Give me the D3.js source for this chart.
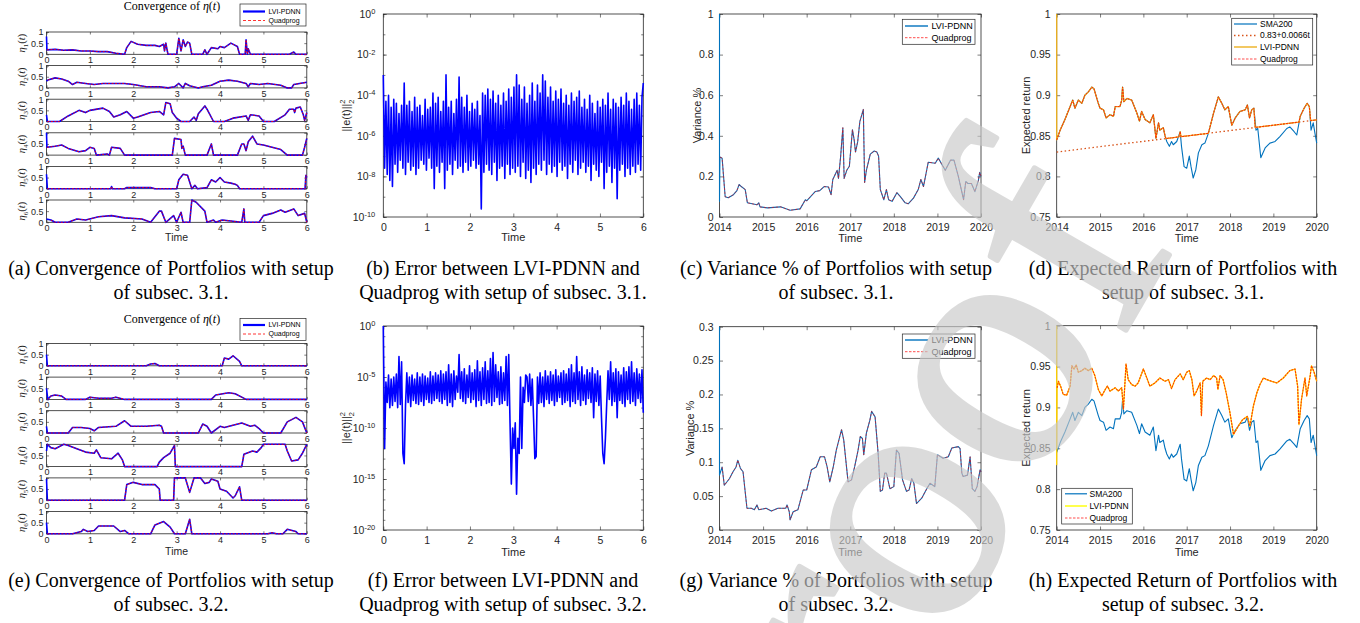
<!DOCTYPE html>
<html>
<head>
<meta charset="utf-8">
<script src="https://cdn.jsdelivr.net/npm/d3@7"></script>
<style>
  body { margin: 0; background: #fff; }
</style>
</head>
<body>
<script>
// ---------- data ----------
// eta(t) weights, setup 3.1 (first point = LVI-PDNN initial state)
var etaA1 = [[0,0.8],[0.01,0.2],[0.2,0.22],[0.4,0.18],[0.6,0.2],[0.8,0.15],[1,0.15],[1.2,0.12],[1.4,0.12],[1.6,0.05],[1.8,0],[1.85,0.3],[1.95,0.58],[2.1,0.45],[2.3,0.4],[2.5,0.4],[2.6,0.35],[2.7,0.45],[2.72,0.15],[2.75,0.5],[2.8,0],[3.0,0],[3.05,0.72],[3.1,0.15],[3.15,0.65],[3.2,0.35],[3.25,0.55],[3.3,0.5],[3.35,0],[3.6,0],[3.65,0.2],[3.7,0],[3.8,0.3],[3.95,0.25],[4.0,0.35],[4.1,0.3],[4.25,0.5],[4.4,0.35],[4.45,0],[4.58,0],[4.6,0.65],[4.63,0],[4.65,0.25],[4.7,0],[5.6,0],[5.7,0.1],[5.75,0],[6,0]];
var etaA2 = [[0,0.3],[0.03,0.35],[0.2,0.45],[0.35,0.4],[0.5,0.3],[0.6,0.15],[0.7,0.25],[0.9,0.2],[1.1,0.15],[1.3,0.2],[1.5,0.2],[1.8,0.2],[2.0,0.15],[2.3,0.05],[2.6,0.05],[2.8,0],[2.95,0.05],[3.05,0.2],[3.15,0],[3.2,0.2],[3.3,0.1],[3.5,0],[3.6,0.05],[3.8,0.12],[4.0,0.3],[4.2,0.35],[4.4,0.3],[4.6,0.2],[4.65,0.05],[4.7,0.2],[4.9,0.15],[5.1,0.2],[5.4,0.12],[5.55,0],[5.65,0],[5.7,0.15],[5.9,0.22],[6,0.25]];
var etaA3 = [[0,0.3],[0.02,0],[0.3,0],[0.5,0.25],[0.75,0.5],[0.9,0.4],[1.0,0.5],[1.3,0.6],[1.45,0.45],[1.55,0.2],[1.7,0.3],[1.85,0.45],[2.0,0.15],[2.1,0.2],[2.4,0.4],[2.6,0.45],[2.7,0.3],[2.75,0.85],[2.85,0.8],[2.9,0.4],[3.0,0.15],[3.1,0],[3.3,0],[3.4,0.2],[3.45,0.05],[3.5,0.35],[3.65,0.7],[3.7,0.55],[3.85,0],[4.1,0],[4.3,0.15],[4.6,0.25],[4.65,0.05],[4.7,0.3],[4.9,0.25],[5.0,0],[5.25,0],[5.5,0.3],[5.6,0.55],[5.7,0.55],[5.72,0.4],[5.75,0.6],[5.85,0.65],[5.92,0.3],[5.95,0.05],[6,0.4]];
var etaA4 = [[0,1],[0.01,0.35],[0.2,0.4],[0.35,0.45],[0.5,0.3],[0.75,0.15],[0.9,0.2],[1.0,0.35],[1.1,0.3],[1.15,0],[1.4,0.05],[1.45,0],[1.5,0.35],[1.7,0.3],[1.8,0],[2.9,0],[2.95,0.75],[3.1,0.7],[3.12,0.3],[3.15,0.4],[3.2,0],[3.7,0],[3.75,0.25],[3.8,0.5],[3.85,0],[4.4,0],[4.5,0.5],[4.55,0.5],[4.6,0.2],[4.65,0.6],[4.75,0.85],[4.85,0.5],[5.0,0.45],[5.2,0.35],[5.4,0.25],[5.55,0],[5.9,0],[5.95,0.35],[6,0.75]];
var etaA5 = [[0,0.65],[0.02,0],[1.48,0],[1.5,0.1],[1.52,0],[1.8,0],[1.85,0.05],[2.4,0.05],[2.5,0],[3.0,0],[3.05,0.4],[3.15,0.65],[3.25,0.6],[3.35,0],[3.42,0.15],[3.48,0],[3.7,0.05],[3.8,0.4],[3.9,0.3],[4.0,0.5],[4.1,0.3],[4.25,0.25],[4.35,0.2],[4.4,0.15],[4.45,0],[5.96,0],[5.98,0.6],[6,0.5]];
var etaA6 = [[0,0.15],[0.1,0.1],[0.2,0],[0.5,0],[0.7,0.15],[0.9,0.1],[1.2,0.25],[1.5,0.3],[1.8,0.2],[2.2,0.15],[2.4,0],[2.6,0.5],[2.65,0.5],[2.75,0],[2.93,0.3],[3.0,0],[3.1,0.45],[3.15,0],[3.3,0],[3.35,1.0],[3.45,0.9],[3.65,0.5],[3.7,0],[3.85,0.1],[3.9,0],[4.05,0.1],[4.5,0],[4.55,0.6],[4.57,0],[4.9,0],[5.0,0.3],[5.2,0.4],[5.4,0.55],[5.5,0.45],[5.7,0.6],[5.8,0.3],[5.95,0.4],[6,0]];

// eta(t) weights, setup 3.2
var etaE1 = [[0,0.5],[0.02,0],[2.3,0],[2.4,0.08],[2.5,0.1],[2.6,0],[4.05,0],[4.1,0.35],[4.2,0.3],[4.3,0.45],[4.45,0.2],[4.5,0],[6,0]];
var etaE2 = [[0,0.5],[0.03,0],[0.1,0.15],[0.2,0.2],[0.35,0.15],[0.45,0],[0.9,0],[1.0,0.1],[1.2,0.05],[1.5,0.05],[1.6,0.1],[1.8,0],[3.8,0],[3.9,0.2],[4.2,0.3],[4.35,0.25],[4.6,0],[6,0]];
var etaE3 = [[0,0.3],[0.02,0],[0.5,0],[0.6,0.25],[0.8,0.25],[1.0,0.2],[1.1,0.1],[1.2,0.25],[1.6,0.3],[1.8,0.55],[1.95,0.3],[2.3,0.3],[2.6,0.35],[2.65,0.3],[2.7,0],[3.5,0],[3.6,0.4],[3.7,0.3],[3.8,0],[4.0,0.3],[4.1,0.25],[4.5,0.45],[4.7,0.3],[4.8,0.35],[4.9,0.2],[5.0,0],[5.4,0],[5.55,0.5],[5.75,0.7],[5.9,0.5],[6,0]];
var etaE4 = [[0,0.7],[0.02,1.0],[0.1,0.85],[0.2,0.8],[0.4,1.0],[0.5,0.95],[0.7,0.8],[0.9,0.65],[1.1,0.6],[1.15,0.75],[1.25,0.4],[1.5,0.35],[1.65,0.6],[1.75,0.3],[1.8,0],[2.55,0],[2.6,0.2],[2.7,0.4],[2.85,0.6],[2.95,0.95],[2.97,0],[4.5,0],[4.55,0.55],[4.75,0.7],[4.85,0.65],[4.95,0.85],[5.0,1.0],[5.5,1.0],[5.55,0.7],[5.65,0.25],[5.8,0.3],[5.9,0.6],[6,1.0]];
var etaE5 = [[0,0.95],[0.02,0],[1.8,0],[1.85,0.7],[2.0,0.8],[2.2,0.7],[2.5,0.7],[2.6,0.5],[2.62,0],[2.93,0],[2.95,1.0],[3.2,1.0],[3.3,0.35],[3.4,1.0],[3.55,1.0],[3.65,0.75],[3.75,0.8],[3.8,0.95],[3.95,0.85],[4.0,0.5],[4.15,0.4],[4.3,0.1],[4.35,0.2],[4.45,0.6],[4.5,0],[6,0]];
var etaE6 = [[0,0.5],[0.02,0],[0.6,0],[0.8,0.1],[0.85,0.2],[0.95,0.1],[1.1,0.15],[1.2,0.35],[1.55,0.35],[1.7,0.1],[1.8,0.15],[1.9,0],[2.4,0],[2.5,0.4],[2.7,0.55],[2.85,0.3],[2.95,0],[3.2,0],[3.3,0.65],[3.35,0],[5.1,0],[5.2,0.05],[5.3,0],[5.45,0],[5.55,0.2],[5.75,0.1],[5.8,0],[6,0]];

// log10 of ||e(t)||^2, equally spaced samples over t = 0..6
var errLogB = [-3.0,-7.6,-4.3,-7.9,-4.0,-8.2,-4.6,-8.5,-4.2,-7.4,
  -4.4,-7.8,-4.9,-7.2,-4.5,-7.6,-3.4,-7.9,-4.5,-7.3,
  -4.3,-7.7,-4.8,-7.5,-4.1,-7.9,-4.6,-7.6,-4.5,-7.2,
  -5.0,-7.4,-4.2,-7.7,-4.7,-7.1,-4.6,-7.6,-3.9,-8.6,
  -4.4,-7.5,-4.1,-7.8,-4.8,-7.3,-4.3,-8.6,-3.0,-7.7,
  -4.6,-7.4,-4.3,-7.9,-4.9,-7.2,-4.2,-7.6,-3.1,-7.5,
  -4.1,-7.8,-4.6,-7.3,-4.0,-7.7,-4.8,-7.5,-4.4,-7.2,
  -4.7,-7.6,-4.3,-7.4,-5.0,-9.6,-3.9,-7.8,-4.0,-7.4,
  -3.7,-7.7,-4.2,-7.9,-3.8,-7.3,-4.4,-8.2,-4.0,-7.6,
  -4.5,-7.5,-3.9,-8.1,-4.3,-7.4,-3.7,-7.9,-4.1,-7.6,
  -3.6,-7.8,-3.0,-7.5,-3.5,-8.0,-4.2,-7.3,-3.6,-8.1,
  -4.4,-7.7,-4.0,-8.3,-3.4,-7.6,-4.3,-7.9,-3.5,-7.4,
  -3.9,-7.7,-3.0,-7.2,-3.3,-7.9,-4.1,-7.4,-3.6,-7.8,
  -4.3,-7.5,-3.8,-8.0,-4.2,-7.3,-3.7,-7.7,-4.4,-7.5,
  -4.0,-8.1,-4.5,-7.4,-3.9,-7.8,-4.3,-7.2,-4.1,-7.9,
  -3.8,-7.6,-4.6,-7.3,-4.2,-7.8,-4.7,-7.5,-4.0,-8.2,
  -4.4,-7.4,-4.9,-7.7,-4.3,-8.0,-4.6,-7.3,-4.2,-8.6,
  -4.5,-7.8,-3.9,-7.5,-4.7,-8.3,-4.2,-7.6,-4.4,-9.1,
  -4.6,-7.7,-4.1,-7.4,-4.5,-8.0,-3.9,-7.6,-4.3,-7.9,
  -4.7,-7.5,-4.2,-7.8,-3.9,-7.4,-4.5,-7.7,-4.1,-3.4];
var errLogF = [0.0,-12.0,-5.5,-7.5,-4.8,-8.0,-5.2,-7.8,-5.0,-7.4,
  -4.7,-8.0,-3.0,-7.7,-3.5,-12.5,-13.5,-7.8,-4.6,-7.5,
  -5.0,-7.9,-4.8,-7.3,-5.2,-7.6,-4.6,-7.7,-5.0,-7.4,
  -4.7,-7.8,-4.9,-7.2,-5.1,-7.5,-4.5,-7.6,-4.9,-7.3,
  -4.6,-7.1,-4.8,-7.4,-4.4,-7.6,-4.7,-7.2,-4.5,-7.8,
  -3.8,-7.5,-4.7,-7.9,-4.4,-7.2,-4.9,-6.5,-2.8,-7.1,
  -4.5,-7.4,-4.2,-7.6,-4.8,-7.0,-3.9,-7.5,-4.6,-7.2,
  -4.3,-7.9,-3.4,-7.3,-4.5,-7.8,-4.1,-7.2,-3.5,-7.6,
  -4.4,-7.5,-3.2,-7.8,-2.6,-7.4,-3.8,-7.0,-4.5,-7.7,
  -4.0,-7.6,-4.6,-7.3,-3.0,-7.8,-2.8,-9.5,-15.5,-10.0,
  -12.0,-9.5,-16.5,-11.0,-12.5,-5.0,-12.0,-6.0,-7.5,-4.8,
  -5.0,-7.4,-4.7,-7.8,-5.2,-9.0,-13.0,-12.8,-5.0,-7.6,
  -4.6,-7.5,-5.0,-7.9,-4.4,-7.2,-4.9,-7.6,-4.5,-7.3,
  -4.8,-7.8,-4.3,-7.4,-4.9,-7.0,-4.6,-7.7,-4.4,-7.5,
  -4.7,-7.3,-4.2,-7.9,-3.8,-7.4,-4.6,-7.6,-3.0,-7.2,
  -4.5,-7.8,-4.0,-7.3,-4.8,-7.7,-4.3,-7.1,-4.6,-7.5,
  -4.1,-9.0,-4.7,-7.4,-4.4,-7.8,-4.9,-9.0,-12.5,-13.5,
  -11.0,-7.6,-4.4,-7.2,-3.5,-7.8,-4.6,-7.4,-4.2,-9.0,
  -4.5,-7.3,-4.8,-7.6,-4.1,-7.9,-4.5,-7.2,-4.0,-7.6,
  -3.5,-7.4,-4.6,-7.8,-4.2,-7.1,-4.7,-7.5,-4.3,-8.5];

// portfolio variance % (year, value); first points = LVI-PDNN start-up
var varC = [[2014,1],[2014,0.077],[2014.01,0.295],[2014.06,0.29],[2014.13,0.1],[2014.2,0.095],[2014.32,0.11],[2014.4,0.13],[2014.45,0.16],[2014.5,0.15],[2014.59,0.135],[2014.64,0.07],[2014.86,0.06],[2014.9,0.07],[2014.93,0.05],[2015.1,0.045],[2015.4,0.05],[2015.62,0.033],[2015.85,0.04],[2015.97,0.085],[2016.0,0.08],[2016.2,0.126],[2016.3,0.13],[2016.4,0.15],[2016.5,0.148],[2016.56,0.11],[2016.6,0.185],[2016.7,0.23],[2016.73,0.19],[2016.78,0.3],[2016.83,0.44],[2016.86,0.19],[2016.92,0.23],[2016.98,0.25],[2017.05,0.43],[2017.09,0.38],[2017.12,0.32],[2017.17,0.37],[2017.22,0.47],[2017.3,0.53],[2017.33,0.17],[2017.37,0.23],[2017.46,0.31],[2017.55,0.325],[2017.61,0.32],[2017.65,0.3],[2017.69,0.135],[2017.77,0.085],[2017.83,0.135],[2017.88,0.085],[2017.96,0.077],[2018.07,0.12],[2018.15,0.1],[2018.26,0.07],[2018.33,0.065],[2018.45,0.093],[2018.56,0.135],[2018.62,0.185],[2018.68,0.15],[2018.79,0.27],[2018.95,0.265],[2019.02,0.29],[2019.18,0.23],[2019.3,0.28],[2019.38,0.28],[2019.48,0.2],[2019.6,0.085],[2019.65,0.175],[2019.7,0.165],[2019.78,0.165],[2019.86,0.125],[2019.94,0.18],[2019.97,0.22],[2020,0.2]];
var varG = [[2014,0.3],[2014,0.081],[2014.06,0.093],[2014.11,0.066],[2014.23,0.076],[2014.31,0.086],[2014.38,0.093],[2014.42,0.103],[2014.48,0.091],[2014.54,0.086],[2014.63,0.032],[2014.73,0.032],[2014.8,0.03],[2014.86,0.037],[2014.9,0.03],[2015.07,0.032],[2015.19,0.028],[2015.34,0.032],[2015.52,0.032],[2015.55,0.037],[2015.6,0.027],[2015.62,0.015],[2015.69,0.027],[2015.8,0.03],[2015.92,0.059],[2016.0,0.059],[2016.11,0.089],[2016.22,0.093],[2016.31,0.108],[2016.41,0.108],[2016.47,0.093],[2016.53,0.071],[2016.61,0.093],[2016.68,0.118],[2016.8,0.148],[2016.85,0.133],[2016.95,0.071],[2017.03,0.074],[2017.1,0.093],[2017.18,0.118],[2017.23,0.138],[2017.28,0.135],[2017.31,0.111],[2017.37,0.143],[2017.45,0.162],[2017.49,0.175],[2017.57,0.167],[2017.64,0.113],[2017.69,0.057],[2017.74,0.059],[2017.79,0.084],[2017.83,0.084],[2017.91,0.061],[2018.0,0.064],[2018.06,0.118],[2018.12,0.113],[2018.2,0.074],[2018.29,0.057],[2018.35,0.059],[2018.41,0.076],[2018.46,0.069],[2018.52,0.039],[2018.64,0.047],[2018.74,0.059],[2018.83,0.069],[2018.94,0.064],[2019.0,0.111],[2019.13,0.106],[2019.25,0.108],[2019.33,0.121],[2019.48,0.123],[2019.52,0.12],[2019.56,0.084],[2019.59,0.079],[2019.69,0.081],[2019.75,0.108],[2019.8,0.061],[2019.86,0.057],[2019.91,0.064],[2019.98,0.089],[2020,0.086]];

// expected return (year, value)
var sma200 = [[2014,0.845],[2014.08,0.857],[2014.19,0.87],[2014.31,0.886],[2014.37,0.894],[2014.42,0.884],[2014.5,0.894],[2014.58,0.89],[2014.65,0.9],[2014.73,0.904],[2014.81,0.91],[2014.86,0.908],[2014.96,0.89],[2015.0,0.884],[2015.08,0.882],[2015.14,0.872],[2015.23,0.876],[2015.31,0.874],[2015.35,0.886],[2015.46,0.886],[2015.5,0.894],[2015.52,0.91],[2015.55,0.892],[2015.62,0.896],[2015.73,0.894],[2015.85,0.878],[2015.91,0.868],[2015.96,0.88],[2016.04,0.87],[2016.15,0.866],[2016.23,0.876],[2016.29,0.847],[2016.35,0.866],[2016.38,0.857],[2016.46,0.86],[2016.5,0.85],[2016.54,0.843],[2016.6,0.837],[2016.65,0.843],[2016.69,0.839],[2016.77,0.843],[2016.85,0.855],[2016.88,0.837],[2016.94,0.812],[2017.0,0.81],[2017.06,0.825],[2017.1,0.812],[2017.15,0.798],[2017.21,0.808],[2017.27,0.829],[2017.35,0.839],[2017.42,0.841],[2017.5,0.853],[2017.62,0.878],[2017.73,0.898],[2017.81,0.89],[2017.88,0.882],[2017.96,0.886],[2018.04,0.863],[2018.12,0.872],[2018.23,0.88],[2018.35,0.882],[2018.4,0.888],[2018.45,0.872],[2018.5,0.882],[2018.55,0.884],[2018.6,0.857],[2018.64,0.859],[2018.71,0.823],[2018.81,0.835],[2018.92,0.841],[2019.04,0.843],[2019.15,0.849],[2019.31,0.859],[2019.38,0.861],[2019.48,0.855],[2019.54,0.851],[2019.62,0.874],[2019.71,0.884],[2019.78,0.89],[2019.83,0.886],[2019.87,0.857],[2019.92,0.866],[2019.96,0.853],[2020,0.841]];
var trendD = [[2014,0.83],[2020,0.8696]];
var lviD = [[2014,1],[2014,0.845],[2014.08,0.857],[2014.19,0.87],[2014.31,0.886],[2014.37,0.894],[2014.42,0.884],[2014.5,0.894],[2014.58,0.89],[2014.65,0.9],[2014.73,0.904],[2014.81,0.91],[2014.86,0.908],[2014.96,0.89],[2015.0,0.884],[2015.08,0.882],[2015.14,0.872],[2015.23,0.876],[2015.31,0.874],[2015.35,0.886],[2015.46,0.886],[2015.5,0.894],[2015.52,0.91],[2015.55,0.892],[2015.62,0.896],[2015.73,0.894],[2015.85,0.878],[2015.91,0.868],[2015.96,0.88],[2016.04,0.87],[2016.15,0.866],[2016.23,0.876],[2016.29,0.847],[2016.35,0.866],[2016.38,0.857],[2016.46,0.86],[2016.5,0.85],[2016.52,0.8466],[2016.82,0.8486],[2016.85,0.855],[2016.87,0.8489],[2017.5,0.853],[2017.62,0.878],[2017.73,0.898],[2017.81,0.89],[2017.88,0.882],[2017.96,0.886],[2018.04,0.863],[2018.12,0.872],[2018.23,0.88],[2018.35,0.882],[2018.4,0.888],[2018.45,0.872],[2018.5,0.882],[2018.55,0.884],[2018.58,0.8603],[2019.59,0.8669],[2019.62,0.874],[2019.71,0.884],[2019.78,0.89],[2019.83,0.886],[2019.86,0.8688],[2020,0.8696]];
var lviH = [[2014,1],[2014,0.83],[2014.01,0.924],[2014.04,0.932],[2014.09,0.926],[2014.15,0.916],[2014.23,0.915],[2014.31,0.926],[2014.35,0.951],[2014.4,0.947],[2014.45,0.952],[2014.5,0.943],[2014.58,0.945],[2014.65,0.948],[2014.73,0.945],[2014.81,0.948],[2014.88,0.939],[2014.96,0.922],[2015.04,0.914],[2015.12,0.922],[2015.17,0.926],[2015.23,0.92],[2015.35,0.924],[2015.42,0.92],[2015.5,0.924],[2015.54,0.898],[2015.6,0.953],[2015.65,0.934],[2015.73,0.928],[2015.81,0.926],[2015.88,0.93],[2016.0,0.947],[2016.08,0.936],[2016.15,0.926],[2016.27,0.93],[2016.38,0.936],[2016.5,0.932],[2016.58,0.934],[2016.65,0.923],[2016.73,0.934],[2016.85,0.941],[2016.92,0.934],[2017.0,0.943],[2017.06,0.945],[2017.12,0.934],[2017.17,0.914],[2017.23,0.92],[2017.31,0.93],[2017.34,0.89],[2017.37,0.932],[2017.46,0.936],[2017.54,0.934],[2017.62,0.939],[2017.69,0.936],[2017.72,0.922],[2017.77,0.939],[2017.84,0.934],[2017.91,0.918],[2018.0,0.893],[2018.08,0.867],[2018.19,0.877],[2018.29,0.885],[2018.4,0.889],[2018.46,0.877],[2018.54,0.902],[2018.62,0.918],[2018.69,0.928],[2018.77,0.936],[2018.85,0.934],[2018.96,0.932],[2019.08,0.93],[2019.23,0.936],[2019.38,0.945],[2019.5,0.947],[2019.56,0.926],[2019.59,0.879],[2019.65,0.91],[2019.73,0.936],[2019.77,0.914],[2019.85,0.939],[2019.88,0.951],[2019.94,0.943],[2020,0.932]];

// ticks and texts
var etaTicksX = [0, 1, 2, 3, 4, 5, 6];
var etaTicksY = [0, 0.5, 1];
var yearTicks = [2014, 2015, 2016, 2017, 2018, 2019, 2020];
var captionsTop = [["(a) Convergence of Portfolios with setup", "of subsec. 3.1."], ["(b) Error between LVI-PDNN and", "Quadprog with setup of subsec. 3.1."], ["(c) Variance % of Portfolios with setup", "of subsec. 3.1."], ["(d) Expected Return of Portfolios with", "setup of subsec. 3.1."]];
var captionsBottom = [["(e) Convergence of Portfolios with setup", "of subsec. 3.2."], ["(f) Error between LVI-PDNN and", "Quadprog with setup of subsec. 3.2."], ["(g) Variance % of Portfolios with setup", "of subsec. 3.2."], ["(h) Expected Return of Portfolios with", "setup of subsec. 3.2."]];

// ---------- drawing ----------
var AX = "#262626";
var SANS = "'Liberation Sans', Arial, sans-serif";
var SERIF = "'Liberation Serif', 'Times New Roman', serif";
var num = function(d) { return String(+d.toFixed(2)); };

var svg = d3.select("body").append("svg").attr("width", 1360).attr("height", 623);

function styleAxis(s, fs) {
  s.select(".domain").remove();
  s.selectAll("line").attr("stroke", AX).attr("stroke-width", 0.6);
  s.selectAll("text").attr("font-family", SANS).attr("font-size", fs).attr("fill", AX);
}

function axes(g, x, y, o) {
  var l = x.range()[0], r = x.range()[1], b = y.range()[0], t = y.range()[1];
  g.append("g").attr("transform", "translate(0," + b + ")")
    .call(d3.axisBottom(x).tickValues(o.xt).tickSize(-o.tick).tickPadding(o.padX).tickFormat(o.xf))
    .call(styleAxis, o.fs);
  g.append("g").attr("transform", "translate(0," + t + ")")
    .call(d3.axisTop(x).tickValues(o.xt).tickSize(-o.tick).tickFormat(""))
    .call(styleAxis, o.fs);
  var left = g.append("g").attr("transform", "translate(" + l + ",0)")
    .call(d3.axisLeft(y).tickValues(o.yt).tickSize(-o.tick).tickPadding(o.padY).tickFormat(o.yf))
    .call(styleAxis, o.fs);
  g.append("g").attr("transform", "translate(" + r + ",0)")
    .call(d3.axisRight(y).tickValues(o.yt).tickSize(-o.tick).tickFormat(""))
    .call(styleAxis, o.fs);
  if (o.minor) {
    g.append("g").attr("transform", "translate(" + l + ",0)")
      .call(d3.axisLeft(y).tickValues(o.minor).tickSize(-o.tick * 0.6).tickFormat("")).call(styleAxis, o.fs);
    g.append("g").attr("transform", "translate(" + r + ",0)")
      .call(d3.axisRight(y).tickValues(o.minor).tickSize(-o.tick * 0.6).tickFormat("")).call(styleAxis, o.fs);
  }
  g.append("rect").attr("x", l).attr("y", t).attr("width", r - l).attr("height", b - t)
    .attr("fill", "none").attr("stroke", AX).attr("stroke-width", 0.8);
  return left;
}

function plotLine(g, x, y, pts, color, w, dash) {
  g.append("path").datum(pts)
    .attr("d", d3.line().x(function(d) { return x(d[0]); }).y(function(d) { return y(d[1]); }))
    .attr("fill", "none").attr("stroke", color).attr("stroke-width", w)
    .attr("stroke-linejoin", "round").attr("stroke-dasharray", dash || null);
}

function legend(box, rows, items, fs, sx, tx) {
  var g = svg.append("g");
  g.append("rect").attr("x", box[0]).attr("y", box[1]).attr("width", box[2] - box[0]).attr("height", box[3] - box[1])
    .attr("fill", "#fff").attr("stroke", AX).attr("stroke-width", 0.7);
  items.forEach(function(it, i) {
    g.append("line").attr("x1", sx[0]).attr("x2", sx[1]).attr("y1", rows[i]).attr("y2", rows[i])
      .attr("stroke", it.c).attr("stroke-width", it.w).attr("stroke-dasharray", it.d || null);
    g.append("text").attr("x", tx).attr("y", rows[i]).attr("dy", "0.35em")
      .attr("font-family", SANS).attr("font-size", fs).attr("fill", "#000").text(it.label);
  });
}

function xLabel(cx, y, fs) {
  svg.append("text").attr("x", cx).attr("y", y).attr("text-anchor", "middle")
    .attr("font-family", SANS).attr("font-size", fs).attr("fill", AX).text("Time");
}

function yLabel(cx, cy, fs, txt) {
  return svg.append("text").attr("transform", "translate(" + cx + "," + cy + ") rotate(-90)")
    .attr("text-anchor", "middle").attr("dy", "0.35em")
    .attr("font-family", SANS).attr("font-size", fs).attr("fill", AX).text(txt);
}

// (a) / (e) eta panels
function etaPanel(series, top0, titleY, legBox, legRows, timeY) {
  var x = d3.scaleLinear().domain([0, 6]).range([46.5, 306.8]);
  series.forEach(function(s, i) {
    var t = top0 + i * 33.6, b = t + 22.3;
    var y = d3.scaleLinear().domain([0, 1]).range([b, t]);
    var g = svg.append("g");
    axes(g, x, y, { xt: etaTicksX, yt: etaTicksY, xf: d3.format("d"), yf: num, fs: 9, tick: 2.5, padX: 2.5, padY: 3 });
    plotLine(g, x, y, s, "#0000ff", 1.6);
    plotLine(g, x, y, s.slice(1), "#ff0000", 0.9, "2,1.5");
    var lab = svg.append("text").attr("transform", "translate(21.5," + (t + b) / 2 + ") rotate(-90)")
      .attr("text-anchor", "middle").attr("dy", "0.35em")
      .attr("font-family", SERIF).attr("font-size", 10.5).attr("fill", AX);
    lab.append("tspan").attr("font-style", "italic").text("\u03b7");
    lab.append("tspan").attr("font-size", 7).attr("dy", 2.5).text(i + 1);
    lab.append("tspan").attr("dy", -2.5).text("(");
    lab.append("tspan").attr("font-style", "italic").text("t");
    lab.append("tspan").text(")");
  });
  var tt = svg.append("text").attr("x", 172).attr("y", titleY).attr("text-anchor", "middle")
    .attr("font-family", SERIF).attr("font-size", 12).attr("fill", "#000");
  tt.append("tspan").text("Convergence of ");
  tt.append("tspan").attr("font-style", "italic").text("\u03b7");
  tt.append("tspan").text("(");
  tt.append("tspan").attr("font-style", "italic").text("t");
  tt.append("tspan").text(")");
  legend(legBox, legRows, [{ label: "LVI-PDNN", c: "#0000ff", w: 2.2 }, { label: "Quadprog", c: "#ff0000", w: 0.8, d: "3,2" }],
    7, [243, 265], 268.5);
  xLabel(176.6, timeY, 10.5);
}

etaPanel([etaA1, etaA2, etaA3, etaA4, etaA5, etaA6], 32, 10, [240, 4, 306, 26], [11.5, 20.5], 241);
etaPanel([etaE1, etaE2, etaE3, etaE4, etaE5, etaE6], 343.5, 323, [240, 318.5, 306, 340.5], [325, 334], 554.5);

// (b) / (f) error panels
function errPanel(vals, top, bottom, lo, labStep, timeY) {
  var x = d3.scaleLinear().domain([0, 6]).range([383.3, 643.3]);
  var y = d3.scaleLog().domain([Math.pow(10, lo), 1]).range([bottom, top]);
  var g = svg.append("g");
  var major = d3.range(lo, 1, labStep).map(function(e) { return Math.pow(10, e); });
  var minor = d3.range(lo, 1).map(function(e) { return Math.pow(10, e); });
  var left = axes(g, x, y, { xt: etaTicksX, yt: major, minor: minor, xf: d3.format("d"), yf: function() { return "10"; }, fs: 10.5, tick: 3.5, padX: 7, padY: 8 });
  left.selectAll(".tick text").each(function(d) {
    d3.select(this).append("tspan").attr("dy", "-0.5em").attr("font-size", "7.5px").text(Math.round(Math.log10(d)));
  });
  var pts = vals.map(function(v, i) { return [i * 6 / (vals.length - 1), Math.pow(10, v)]; });
  plotLine(g, x, y, pts, "#0000ff", 1.6);
  var lab = svg.append("text").attr("transform", "translate(350," + (top + bottom) / 2 + ") rotate(-90)")
    .attr("text-anchor", "middle").attr("font-family", SANS).attr("font-size", 11).attr("fill", AX);
  lab.append("tspan").text("||e(t)||");
  lab.append("tspan").attr("font-size", 7.5).attr("dy", -5).text("2");
  lab.append("tspan").attr("font-size", 7.5).attr("dx", -4.2).attr("dy", 9).text("2");
  xLabel(513.3, timeY, 11);
}
errPanel(errLogB, 14, 217, -10, 2, 241);
errPanel(errLogF, 326, 530, -20, 5, 556);

// (c) / (g) variance panels
function varPanel(data, top, bottom, ymax, yt, ylx, legBox, legRows, timeY) {
  var x = d3.scaleLinear().domain([2014, 2020]).range([719.5, 981]);
  var y = d3.scaleLinear().domain([0, ymax]).range([bottom, top]);
  var g = svg.append("g");
  axes(g, x, y, { xt: yearTicks, yt: yt, xf: d3.format("d"), yf: num, fs: 10.5, tick: 3.5, padX: 7, padY: 6 });
  plotLine(g, x, y, data, "#0072bd", 1.1);
  plotLine(g, x, y, data.slice(2), "#ff0000", 0.6, "2.5,1.5");
  yLabel(ylx, (top + bottom) / 2, 11, "Variance %");
  legend(legBox, legRows, [{ label: "LVI-PDNN", c: "#0072bd", w: 1.4 }, { label: "Quadprog", c: "#ff0000", w: 0.7, d: "2.5,1.5" }],
    9, [905, 928], 931.5);
  xLabel(850.3, timeY, 11);
}
varPanel(varC, 14, 217, 1, [0, 0.2, 0.4, 0.6, 0.8, 1], 697, [902.3, 19.3, 975, 44.3], [26, 37.7], 242);
varPanel(varG, 326.7, 530, 0.3, [0, 0.05, 0.1, 0.15, 0.2, 0.25, 0.3], 690.5, [902.3, 334, 975, 358.3], [340, 351.7], 556);

// (d) / (h) expected return panels
function retPanel(top, bottom, timeY) {
  var x = d3.scaleLinear().domain([2014, 2020]).range([1056.7, 1316.7]);
  var y = d3.scaleLinear().domain([0.75, 1]).range([bottom, top]);
  var g = svg.append("g");
  axes(g, x, y, { xt: yearTicks, yt: [0.75, 0.8, 0.85, 0.9, 0.95, 1], xf: d3.format("d"), yf: num, fs: 10.5, tick: 3.5, padX: 7, padY: 6 });
  yLabel(1026, (top + bottom) / 2, 11, "Expected return");
  xLabel(1186.7, timeY, 11);
  return { g: g, x: x, y: y };
}
var pd = retPanel(14, 217, 242);
plotLine(pd.g, pd.x, pd.y, sma200, "#0072bd", 1.1);
plotLine(pd.g, pd.x, pd.y, trendD, "#d95319", 1.3, "1.5,2.5");
plotLine(pd.g, pd.x, pd.y, lviD, "#edb120", 1.3);
plotLine(pd.g, pd.x, pd.y, lviD.slice(1), "#ff2a00", 1.0, "2,1");
legend([1231.7, 18.3, 1312.7, 65], [24, 35.5, 47, 59],
  [{ label: "SMA200", c: "#0072bd", w: 1.2 }, { label: "0.83+0.0066t", c: "#d95319", w: 1.4, d: "1.5,2.5" },
   { label: "LVI-PDNN", c: "#edb120", w: 1.4 }, { label: "Quadprog", c: "#ff0000", w: 0.7, d: "2.5,1.5" }],
  8.5, [1234, 1257], 1260);

var ph = retPanel(325.7, 530, 556);
plotLine(ph.g, ph.x, ph.y, sma200, "#0072bd", 1.1);
plotLine(ph.g, ph.x, ph.y, lviH, "#ffd000", 1.3);
plotLine(ph.g, ph.x, ph.y, lviH.slice(2), "#ff3c00", 1.1, "2,1");
legend([1061.7, 488.3, 1132.3, 524], [493.8, 506, 518],
  [{ label: "SMA200", c: "#0072bd", w: 1.2 }, { label: "LVI-PDNN", c: "#ffff00", w: 1.4 }, { label: "Quadprog", c: "#ff0000", w: 0.7, d: "2.5,1.5" }],
  8.5, [1065, 1087], 1089.5);

// captions
var capX = [171, 503, 836, 1183];
function captions(list, y1) {
  list.forEach(function(c, i) {
    c.forEach(function(line, j) {
      svg.append("text").attr("x", capX[i]).attr("y", y1 + j * 24).attr("text-anchor", "middle")
        .attr("font-family", SERIF).attr("font-size", 20).attr("fill", "#000").text(line);
    });
  });
}
captions(captionsTop, 275);
captions(captionsBottom, 586.5);

// journal watermark, drawn over the figure
svg.append("text").attr("transform", "translate(1177,242) rotate(-60)")
  .attr("text-anchor", "end").attr("font-family", SERIF).attr("font-size", 350)
  .attr("fill", "#c9c9c9").attr("stroke", "#c9c9c9").attr("stroke-width", 5).attr("stroke-linejoin", "round")
  .attr("opacity", 0.65).text("Journal Pre-proof");
</script>
</body>
</html>
